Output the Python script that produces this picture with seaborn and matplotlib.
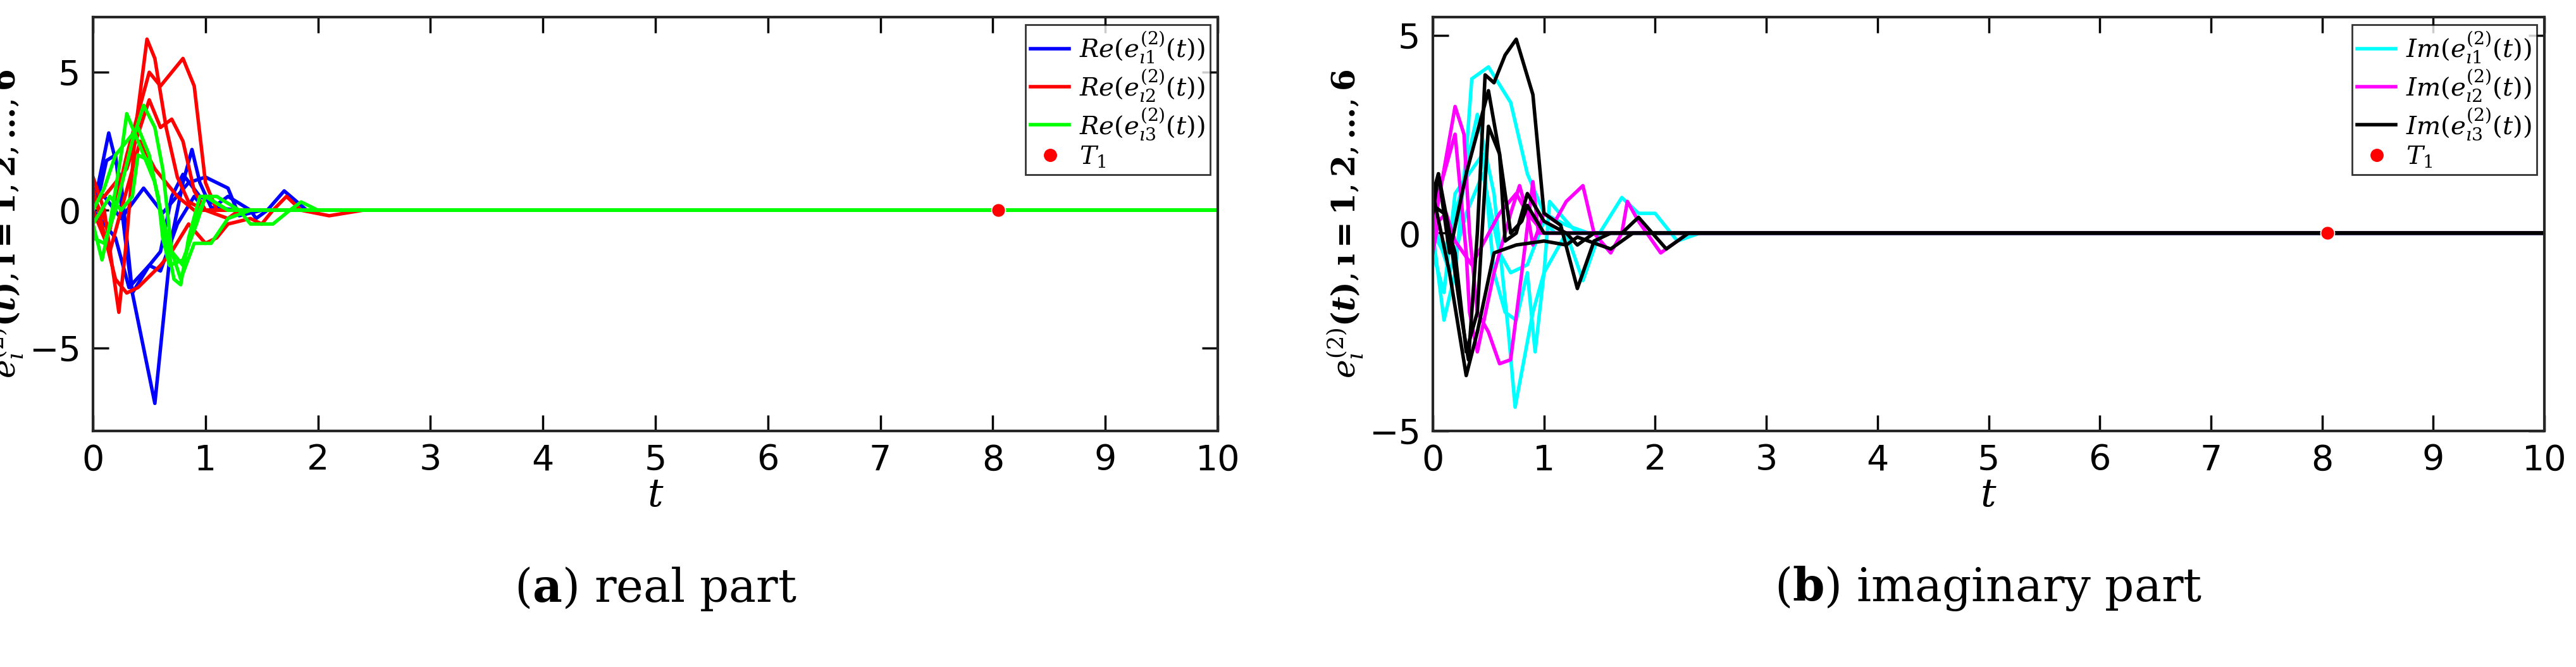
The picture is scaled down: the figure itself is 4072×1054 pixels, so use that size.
import numpy as np
import pandas as pd
import matplotlib
matplotlib.use('Agg')
import matplotlib.pyplot as plt
import seaborn as sns
from matplotlib.lines import Line2D

# puntos: (t, valor)
re_e1 = [
    [(0,0),(0.05,0.5),(0.12,1.8),(0.2,2.0),(0.3,-1.5),(0.35,-3.0),(0.45,-5),(0.55,-7),(0.6,-5),(0.7,-1),(0.8,1.0),(0.88,2.2),(0.95,1.0),(1.05,0.1),(1.3,0)],
    [(0,0),(0.14,2.8),(0.25,1),(0.3,-1),(0.35,-3),(0.5,-2),(0.6,-1.5),(0.7,0.5),(0.8,1.3),(0.95,0.5),(1.1,0.2),(1.2,0.5),(1.4,0),(1.45,-0.3),(1.55,0),(1.7,0.7),(1.9,0),(2.1,0)],
    [(0,0.8),(0.1,0.5),(0.25,-0.3),(0.45,0.8),(0.62,-0.1),(0.85,1.0),(1.0,1.2),(1.2,0.8),(1.3,-0.2),(1.5,0)],
    [(0,0),(0.2,-1),(0.32,-2.8),(0.5,-2),(0.6,-2.2),(0.75,-0.5),(0.9,0.5),(1.0,0)],
]
re_e2 = [
    [(0,1.2),(0.1,0),(0.23,-3.7),(0.3,-1),(0.38,3),(0.48,6.2),(0.55,5.5),(0.65,3),(0.75,1.2),(0.85,0.3),(1.0,0)],
    [(0,0.5),(0.15,-0.7),(0.3,2),(0.5,5),(0.6,4.5),(0.8,5.5),(0.9,4.5),(1.0,1),(1.1,0)],
    [(0,0.8),(0.12,-1.2),(0.2,-2.5),(0.3,-3.0),(0.4,-2.8),(0.6,-2),(0.7,-1.5),(0.85,-0.5),(1.0,-1.2),(1.1,-1),(1.2,-0.5),(1.4,-0.3),(1.5,-0.5),(1.6,0),(1.72,0.5),(1.85,0),(2.1,-0.2),(2.4,0)],
    [(0,0.3),(0.1,0.5),(0.3,1.5),(0.5,4),(0.6,3),(0.7,3.3),(0.8,2.5),(0.9,0.7),(1.0,0),(1.2,-0.3),(1.3,0)],
    [(0,0),(0.15,-1.5),(0.25,0),(0.42,2.5),(0.55,1.5),(0.75,0.5),(0.9,0)],
]
re_e3 = [
    [(0,-0.5),(0.08,-1.8),(0.15,-0.5),(0.25,2),(0.3,3.5),(0.4,2.5),(0.55,1),(0.65,-1),(0.72,-2.5),(0.78,-2.7),(0.85,-1),(0.95,0.5),(1.1,0.5),(1.3,0),(1.4,-0.5),(1.6,-0.5),(1.75,0),(1.85,0.3),(2.0,0)],
    [(0,-1),(0.1,-1.2),(0.2,0),(0.35,2.5),(0.45,3.8),(0.55,3),(0.62,1.5),(0.7,-1.5),(0.78,-2.5),(0.9,-1.2),(1.05,-1.2),(1.2,-0.3),(1.4,0)],
    [(0,0),(0.1,0.8),(0.2,2),(0.4,3),(0.5,2),(0.6,0),(0.7,-1.5),(0.8,-2),(0.9,-0.5),(1.0,0.5),(1.2,0)],
    [(0,-0.5),(0.15,0.5),(0.25,0),(0.35,0.5),(0.4,2),(0.5,1.8),(0.58,0.5),(0.62,-1),(0.68,-2),(0.8,-1.8),(0.92,-0.5),(1.0,0.5),(1.2,0)],
]
im_e1 = [
    [(0,0),(0.1,-2.2),(0.2,-1),(0.3,2),(0.35,3.9),(0.5,4.2),(0.7,3.3),(0.85,1.5),(1.0,0.5),(1.2,0.2),(1.4,0)],
    [(0,0),(0.1,-0.5),(0.25,1),(0.4,3),(0.55,1),(0.68,-2.5),(0.74,-4.4),(0.9,-2),(1.0,-1),(1.05,0.8),(1.2,0.3),(1.3,0)],
    [(0,-0.5),(0.1,-1.5),(0.2,1),(0.45,2),(0.55,-1),(0.65,-2),(0.75,-2.2),(0.85,-1),(0.92,-3),(1.0,-1),(1.2,0),(1.35,-1.2),(1.5,0),(1.7,0.9),(1.85,0.5),(2.0,0.5),(2.2,-0.2),(2.4,0)],
    [(0,0.3),(0.15,-1),(0.3,0.5),(0.45,1.5),(0.6,-0.5),(0.7,-1),(0.85,-0.8),(1.0,0.3),(1.1,0)],
]
im_e2 = [
    [(0,0),(0.2,3.2),(0.28,2.5),(0.33,0),(0.4,-2),(0.5,-2.5),(0.6,-3.3),(0.7,-3.2),(0.8,-1),(0.9,1.3),(0.95,0),(1.1,0)],
    [(0,0.5),(0.1,1.5),(0.2,2.5),(0.3,-0.5),(0.33,-2),(0.4,-3),(0.55,-1),(0.7,0.5),(0.78,1.2),(0.85,0.5),(0.9,-0.3),(1.0,0.5),(1.1,0.3),(1.2,0.8),(1.35,1.2),(1.45,0),(1.6,-0.5),(1.7,0),(1.75,0.8),(1.85,0.3),(2.05,-0.5),(2.3,0)],
    [(0,-0.5),(0.05,0.3),(0.12,0.5),(0.2,-0.2),(0.35,-0.8),(0.6,0.5),(0.75,1),(0.85,0.5),(1.0,0)],
]
im_e3 = [
    [(0,1),(0.15,-1),(0.3,-3.6),(0.4,-2.5),(0.55,-0.5),(0.75,-0.3),(1.0,-0.2),(1.2,-0.3),(1.3,-0.1),(1.6,-0.4),(1.8,0),(2.4,0)],
    [(0,0.5),(0.05,1.5),(0.15,0),(0.25,-2),(0.32,-3.2),(0.4,0),(0.47,4.0),(0.55,3.8),(0.65,4.5),(0.75,4.9),(0.9,3.5),(1.0,0.5),(1.15,0.2),(1.3,-1.4),(1.45,-0.2),(1.6,0)],
    [(0,1),(0.05,1.5),(0.15,-0.5),(0.3,1.5),(0.5,3.6),(0.6,2),(0.65,-0.2),(0.75,0),(0.85,1.0),(1.0,0.3),(1.2,0),(1.3,-0.3),(1.45,0),(1.7,0),(1.85,0.4),(2.1,-0.4),(2.3,0)],
    [(0,0.7),(0.1,0.5),(0.2,-0.5),(0.3,-3),(0.4,-2),(0.5,2.7),(0.6,2),(0.7,0),(0.8,0.3),(0.85,0.7),(1.0,0)],
]
T1 = 8.05

plt.rcParams['mathtext.fontset'] = 'dejavuserif'
fig = plt.figure(figsize=(40.73, 10.54), dpi=100)
ax1 = fig.add_axes([147/4073, 1-681/1054, (1925-147)/4073, 654/1054])
ax2 = fig.add_axes([2265/4073, 1-681/1054, (4022-2265)/4073, 654/1054])


def dibujar(ax, grupos, colores, etiquetas):
    handles = []
    for curvas, col, lab in zip(grupos, colores, etiquetas):
        for c in curvas:
            pts = c + [(3, 0), (10, 0)]
            d = pd.DataFrame(pts, columns=['t', 'e'])
            sns.lineplot(data=d, x='t', y='e', ax=ax, color=col, lw=4,
                         sort=False, estimator=None, legend=False)
        handles.append(Line2D([], [], color=col, lw=4, label=lab))
    sns.scatterplot(x=[T1], y=[0], ax=ax, color='red', s=250, zorder=5, legend=False)
    handles.append(Line2D([], [], color='red', marker='o', ls='', ms=14, label=r'$T_1$'))
    leg = ax.legend(handles=handles, loc='upper right', fontsize=29, frameon=True,
                    fancybox=False, edgecolor='black', borderpad=0.2, labelspacing=0.1,
                    handlelength=1.5, handletextpad=0.4, borderaxespad=0.3)
    leg.get_frame().set_linewidth(2)
    leg.set_zorder(3)
    ax.set_xlim(0, 10)
    ax.set_xticks(range(11))
    ax.tick_params(labelsize=40, direction='in', length=18, width=2.5, top=True, right=True, pad=14)
    for lbl in ax.get_xticklabels() + ax.get_yticklabels():
        lbl.set_family('Liberation Sans Narrow')
    for s in ax.spines.values():
        s.set_linewidth(3)
        s.set_color('#262626')
    ax.set_xlabel(r'$t$', fontsize=44, labelpad=0)
    ax.set_ylabel(r'$\boldsymbol{e_\imath^{(2)}(t), \imath=1,2,\ldots,6}$', fontsize=36, labelpad=4)


dibujar(ax1, [re_e1, re_e2, re_e3], ['blue', 'red', '#00ff00'],
        [r'$Re(e_{\imath1}^{(2)}(t))$', r'$Re(e_{\imath2}^{(2)}(t))$', r'$Re(e_{\imath3}^{(2)}(t))$'])
dibujar(ax2, [im_e1, im_e2, im_e3], ['cyan', 'magenta', 'black'],
        [r'$Im(e_{\imath1}^{(2)}(t))$', r'$Im(e_{\imath2}^{(2)}(t))$', r'$Im(e_{\imath3}^{(2)}(t))$'])
ax1.set_ylim(-8, 7)
ax1.set_yticks([-5, 0, 5])
ax2.set_ylim(-5, 5.46)
ax2.set_yticks([-5, 0, 5])
for ax in (ax1, ax2):
    for lbl in ax.get_yticklabels():
        lbl.set_family('Liberation Sans Narrow')

fig.text(1036/4073, 1-930/1054, r'($\mathbf{a}$) real part', fontsize=52, family='DejaVu Serif', ha='center', va='center')
fig.text(3143/4073, 1-930/1054, r'($\mathbf{b}$) imaginary part', fontsize=52, family='DejaVu Serif', ha='center', va='center')

fig.savefig('out.png', dpi=100)
